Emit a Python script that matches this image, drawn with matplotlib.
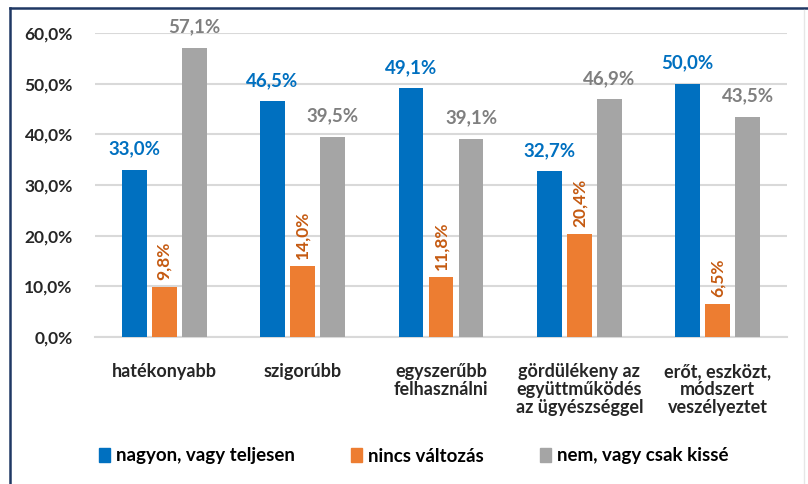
import numpy as np
import matplotlib
matplotlib.use('Agg')
import matplotlib.pyplot as plt
from matplotlib.lines import Line2D
from matplotlib.patches import Patch

plt.rcParams['font.family'] = ['Lato', 'DejaVu Sans']

# data
categories = ['hatékonyabb', 'szigorúbb', 'egyszerűbb\nfelhasználni',
              'gördülékeny az\negyüttműködés\naz ügyészséggel',
              'erőt, eszközt,\nmódszert\nveszélyeztet']
series_names = ['nagyon, vagy teljesen', 'nincs változás', 'nem, vagy csak kissé']
nagyon = [33.0, 46.5, 49.1, 32.7, 50.0]
nincs = [9.8, 14.0, 11.8, 20.4, 6.5]
nem = [57.1, 39.5, 39.1, 46.9, 43.5]
yticks = [0, 10, 20, 30, 40, 50, 60]

bar_colors = ['#0070C0', '#ED7D31', '#A5A5A5']
label_colors = ['#0070C0', '#C55A11', '#7F7F7F']

def hu(v):
    return f'{v:.1f}'.replace('.', ',') + '%'

fig = plt.figure(figsize=(8.08, 4.84), dpi=100)
ax = fig.add_axes([95/808, 1 - 337/484, 692/808, 304/484])

x = np.arange(len(categories))
w = 0.18
step = 0.217
all_series = [nagyon, nincs, nem]
for i, vals in enumerate(all_series):
    pos = x + (i - 1) * step
    ax.bar(pos, vals, width=w, color=bar_colors[i], zorder=3)
    for px, v in zip(pos, vals):
        if i == 1:
            ax.annotate(hu(v), (px, v), xytext=(0, 5), textcoords='offset points',
                        rotation=90, ha='center', va='bottom', color=label_colors[i],
                        fontsize=12.5, fontweight='bold')
        else:
            ax.annotate(hu(v), (px, v), xytext=(0, 15), textcoords='offset points',
                        ha='center', va='center', color=label_colors[i],
                        fontsize=13.5, fontweight='bold', annotation_clip=False)

ax.set_xlim(-0.5, len(categories) - 0.5)
ax.set_ylim(0, 60)
ax.set_yticks(yticks)
ax.set_yticklabels([hu(t) for t in yticks], fontsize=12.5, fontweight='bold', color='#262626')
ax.set_xticks(x)
ax.set_xticklabels(categories, fontsize=13, fontweight='bold', color='#262626', linespacing=1.07)
ax.tick_params(axis='y', length=0, pad=16)
ax.tick_params(axis='x', length=0, pad=19)
ax.grid(axis='y', color='#D9D9D9', linewidth=1.5, zorder=0)
for s in ['top', 'right', 'left']:
    ax.spines[s].set_visible(False)
ax.spines['bottom'].set_color('#D9D9D9')
ax.spines['bottom'].set_linewidth(1.5)

handles = [Patch(color=c) for c in bar_colors]
fig.legend(handles, series_names, loc='center', bbox_to_anchor=(0.512, 1 - 456/484), ncol=3,
           frameon=False, handlelength=0.6, handleheight=0.75, handletextpad=0.3,
           columnspacing=3.0, prop={'size': 13.5, 'weight': 'bold'})

# frame around the chart
fig.add_artist(Line2D([10/808, 10/808], [0, 1 - 8/484], color='#1F3864', linewidth=1.8))
fig.add_artist(Line2D([10/808, 1], [1 - 8/484, 1 - 8/484], color='#1F3864', linewidth=1.8))
fig.add_artist(Line2D([804/808, 804/808], [0, 1 - 10/484], color='#E6E6E6', linewidth=1.0))

plt.savefig('out.png', dpi=100)
